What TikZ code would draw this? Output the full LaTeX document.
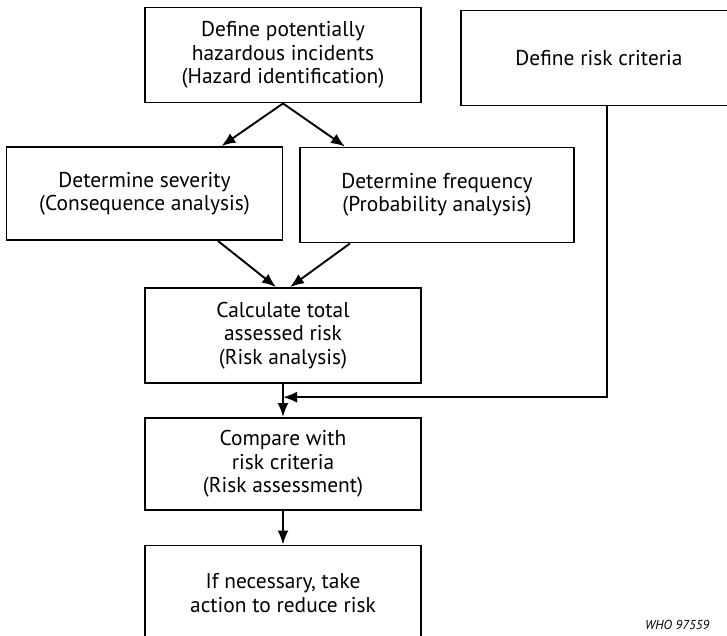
\documentclass[tikz,border=0pt]{standalone}
\usepackage{fontspec}
\setmainfont{PT Sans}
\usetikzlibrary{arrows.meta,positioning}

\tikzset{
  stepbox/.style={draw, line width=1.9bp, minimum width=276bp, minimum height=95bp,
    align=center, inner sep=0pt, font=\fontsize{21.5}{23.5}\selectfont},
  flow/.style={line width=1.9bp, -{Latex[length=14bp,width=11bp]}},
}

\begin{document}
\begin{tikzpicture}[x=1bp, y=-1bp]
\useasboundingbox (0,0) rectangle (727,636);
\clip (0,0) rectangle (727,636);

% ===== Top row =====
\node[stepbox] (hazard) at (283,55) {Define potentially\\hazardous incidents\\(Hazard identification)};
\node[stepbox] (criteria) at (599,58) {Define risk criteria};

% ===== Analysis row =====
\node[stepbox, minimum height=93bp] (severity) at (144.5,193.5) {Determine severity\\(Consequence analysis)};
\node[stepbox, minimum width=274bp] (frequency) at (437,195) {Determine frequency\\(Probability analysis)};

% ===== Risk chain =====
\node[stepbox] (total) at (283,335.5) {Calculate total\\assessed risk\\(Risk analysis)};
\node[stepbox, minimum height=92bp] (compare) at (283,464) {Compare with\\risk criteria\\(Risk assessment)};
\node[stepbox] (action) at (283,593) {If necessary, take\\action to reduce risk};

% Figure code
\node[anchor=north west, inner sep=0pt, font=\fontsize{13}{15}\selectfont\itshape] (code) at (645,620) {WHO 97559};

% Arrows
\draw[flow] (hazard.south) -- ([xshift=77bp]severity.north);
\draw[flow] (hazard.south) -- ([xshift=-92bp]frequency.north);
\draw[flow] ([xshift=73.5bp]severity.south) -- ([xshift=-7bp]total.north);
\draw[flow] ([xshift=-87bp]frequency.south) -- ([xshift=7bp]total.north);
\draw[flow] (total.south) -- (compare.north);
\path (total.south) -- (compare.north) coordinate[pos=0.4] (join);
\draw[flow] ([xshift=8bp]criteria.south) |- (join);
\draw[flow] (compare.south) -- (action.north);

\end{tikzpicture}
\end{document}
